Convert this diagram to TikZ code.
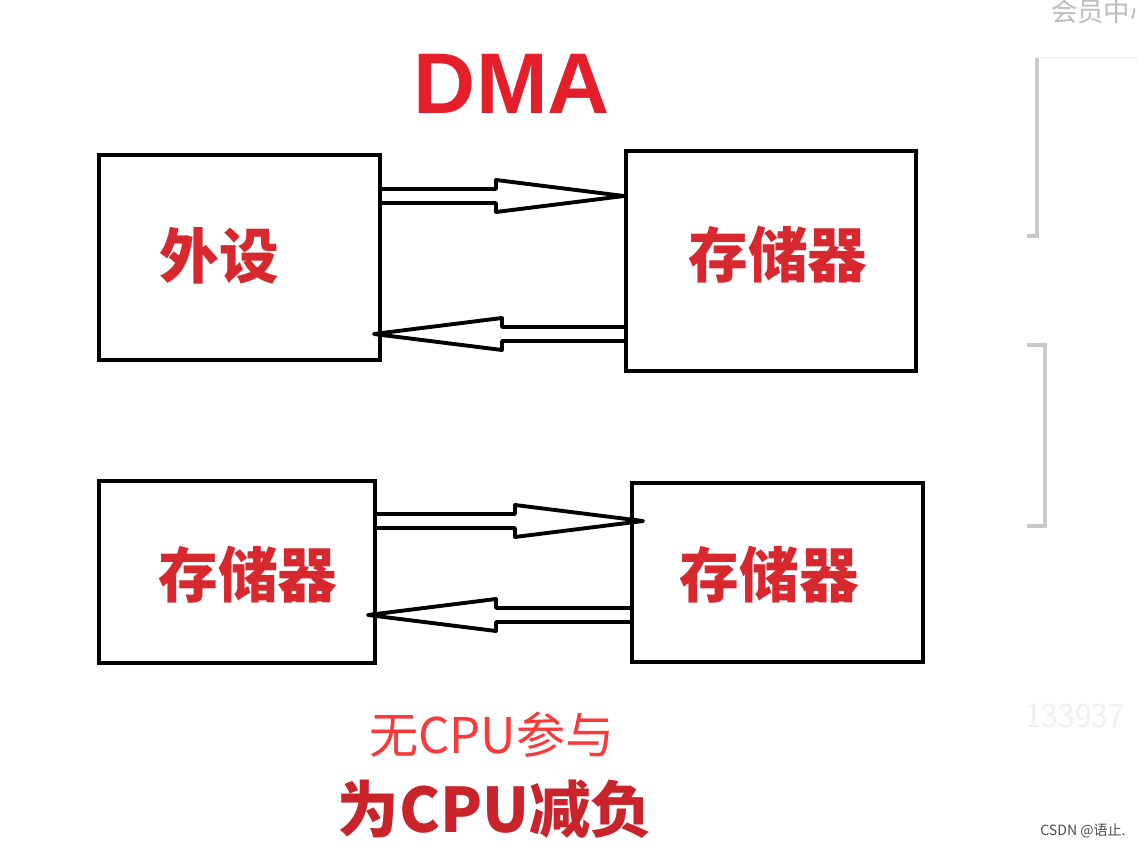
\documentclass[tikz,border=0pt]{standalone}
\usepackage{fontspec}
\newfontfamily\cjk{Noto Sans CJK SC}
\newfontfamily\headfont{Liberation Sans}
\usetikzlibrary{calc}
\definecolor{LabelRed}{HTML}{D8282F}
\definecolor{TitleRed}{HTML}{E41F2B}
\definecolor{NoteRed}{HTML}{F83A3A}
\definecolor{DeepRed}{HTML}{C9232B}
\definecolor{BarGray}{HTML}{C9C9C9}
\definecolor{MarkGray}{HTML}{BDBDBD}
% hollow double-line arrow from #1 to #2
\newcommand\hollowarrow[2]{%
\draw[flow] ($(#1)+(0,-7)$) -- ($(#2)!2.56cm!(#1)+(0,-7)$) -- ($(#2)!2.56cm!(#1)+(0,-16)$) -- (#2) -- ($(#2)!2.56cm!(#1)+(0,16)$) -- ($(#2)!2.56cm!(#1)+(0,7)$) -- ($(#1)+(0,7)$);}

\begin{document}
\begin{tikzpicture}[x=0.02cm,y=-0.02cm,font=\cjk,box/.style={draw=black,line width=2.3pt,inner sep=0pt},lab/.style={font=\cjk\bfseries\fontsize{34pt}{34pt}\selectfont,text=LabelRed},flow/.style={draw=black,line width=2.2pt,line join=round},bar/.style={draw=BarGray,line width=2.3pt}]
\useasboundingbox[fill=white] (0,0) rectangle (1137,847);
\node[font=\headfont\bfseries\fontsize{49pt}{49pt}\selectfont,text=TitleRed] (title) at (512,84){DMA};
\node[box,minimum width=5.62cm,minimum height=4.10cm] (peri) at (239.5,257.5){};
\node[box,minimum width=5.8cm,minimum height=4.4cm] (memA) at (771,261){};
\node[box,minimum width=5.52cm,minimum height=3.64cm] (memB) at (237,572){};
\node[box,minimum width=5.82cm,minimum height=3.58cm] (memC) at (777.5,572.5){};
\node[lab] (periText) at ($(peri.center)+(-20,-2)$){外设};
\node[lab] (memAText) at ($(memA.center)+(7,-6)$){存储器};
\node[lab] (memBText) at ($(memB.center)+(11,3)$){存储器};
\node[lab] (memCText) at ($(memC.center)+(-8,2)$){存储器};
% data paths
\coordinate (a1) at (peri.east |- 0,196);
\coordinate (b1) at (memA.west |- 0,196);
\coordinate (a2) at (memA.west |- 0,334);
\coordinate (b2) at ($(peri.east |- 0,334)+(-8,0)$);
\coordinate (a3) at (memB.east |- 0,521);
\coordinate (b3) at ($(memC.west |- 0,521)+(13,0)$);
\coordinate (a4) at (memC.west |- 0,615);
\coordinate (b4) at ($(memB.east |- 0,615)+(-9,0)$);
\hollowarrow{a1}{b1}
\hollowarrow{a2}{b2}
\hollowarrow{a3}{b3}
\hollowarrow{a4}{b4}
\node[font=\cjk\fontsize{28pt}{28pt}\selectfont,text=NoteRed] (note) at (492,735){无CPU参与};
\node[font=\cjk\bfseries\fontsize{35pt}{35pt}\selectfont,text=DeepRed] (relief) at (495,809){为CPU减负};
% page leftovers
\draw[bar] (1027,236) -- (1037,236) -- (1037,58);
\draw[draw=black!5,line width=0.8pt] (1040,58) -- (1137,58);
\draw[bar] (1027,345) -- (1045,345) -- (1045,526) -- (1027,526);
\node[anchor=west,font=\cjk\fontsize{15pt}{15pt}\selectfont,text=MarkGray] (member) at (1045,12){会员中心};
\node[font=\fontsize{20pt}{20pt}\selectfont\sffamily,text=black!6] (mark) at (1075,716){133937};
\node[font=\cjk\fontsize{8pt}{8pt}\selectfont,text=black!70] (csdn) at (1083,831){CSDN @语止.};
\end{tikzpicture}
\end{document}
